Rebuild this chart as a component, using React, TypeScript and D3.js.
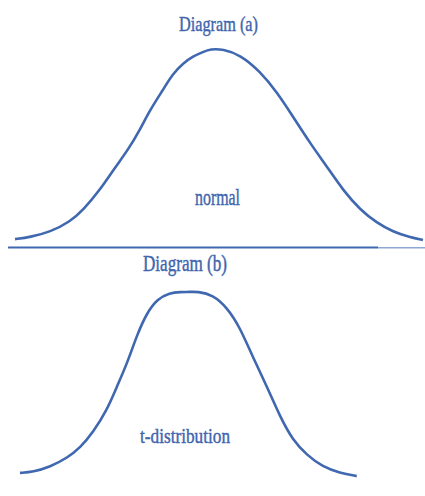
import React from "react";
import * as d3 from "d3";

// Curve samples (standardised x, density y)
const normalX = [-2.6, -2.41, -2.15, -1.9, -1.73, -1.52, -1.33, -1.16, -1.01, -0.88, -0.71, -0.59, -0.46, -0.33, -0.2, -0.11, 0.05, 0.27, 0.52, 0.74, 0.94, 1.16, 1.38, 1.58, 1.8, 2.01, 2.22, 2.43, 2.6];
const normalY = [0.006, 0.01, 0.021, 0.042, 0.067, 0.108, 0.154, 0.192, 0.233, 0.275, 0.318, 0.35, 0.372, 0.387, 0.396, 0.402, 0.402, 0.39, 0.356, 0.312, 0.262, 0.206, 0.156, 0.108, 0.067, 0.04, 0.021, 0.01, 0.004];

const tX = [-2.6, -2.4, -2.14, -1.88, -1.68, -1.48, -1.27, -1.12, -0.96, -0.81, -0.66, -0.5, -0.31, -0.15, 0.0, 0.11, 0.35, 0.57, 0.76, 0.96, 1.18, 1.38, 1.57, 1.79, 2.03, 2.29, 2.55];
const tY = [0.011, 0.013, 0.024, 0.043, 0.065, 0.099, 0.146, 0.196, 0.247, 0.308, 0.355, 0.385, 0.398, 0.4, 0.4, 0.401, 0.394, 0.366, 0.325, 0.26, 0.196, 0.131, 0.082, 0.049, 0.024, 0.011, 0.004];

const titles = ["Diagram (a)", "Diagram (b)"];
const curveLabels = ["normal", "t-distribution"];

const W = 425;
const H = 496;
const BLUE = "#4068b0";
const TEXT_BLUE = "#3f65ae";
const FONT = "'Liberation Serif', 'DejaVu Serif', serif";

// Panel (a) scales
const xA = d3.scaleLinear().domain([-2.6, 2.6]).range([15, 423]);
const yA = d3.scaleLinear().domain([0, 0.4]).range([242, 50]);
// Panel (b) scales
const xB = d3.scaleLinear().domain([-2.6, 2.6]).range([20, 360]);
const yB = d3.scaleLinear().domain([0, 0.4]).range([478, 292]);

const pathFor = (
  xs: number[],
  ys: number[],
  sx: d3.ScaleLinear<number, number>,
  sy: d3.ScaleLinear<number, number>
) =>
  d3
    .line<number>()
    .x((_, i) => sx(xs[i]))
    .y((d) => sy(d))
    .curve(d3.curveBasis)(ys) || "";

const textStyle = {
  fontFamily: FONT,
  fill: TEXT_BLUE,
  stroke: TEXT_BLUE,
  strokeWidth: 0.45,
};

export default function App() {
  const pathA = pathFor(normalX, normalY, xA, yA);
  const pathB = pathFor(tX, tY, xB, yB);

  return (
    <svg
      width={W}
      height={H}
      viewBox={`0 0 ${W} ${H}`}
      style={{ position: "absolute", left: 0, top: 0, background: "#fff" }}
    >
      {/* Panel (a) */}
      <text x={179} y={31} fontSize={22} textLength={79} lengthAdjust="spacingAndGlyphs" style={textStyle}>
        {titles[0]}
      </text>
      <path d={pathA} fill="none" stroke={BLUE} strokeWidth={2.6} strokeLinejoin="round" />
      <text x={195} y={205} fontSize={24} textLength={45} lengthAdjust="spacingAndGlyphs" style={textStyle}>
        {curveLabels[0]}
      </text>
      {/* Divider between panels */}
      <line x1={8} x2={378} y1={247.5} y2={247.5} stroke={BLUE} strokeWidth={2.2} />
      <line x1={378} x2={425} y1={247.7} y2={247.7} stroke="#8ea7d3" strokeWidth={1.4} />

      {/* Panel (b) */}
      <text x={143} y={271} fontSize={23} textLength={84} lengthAdjust="spacingAndGlyphs" style={textStyle}>
        {titles[1]}
      </text>
      <path d={pathB} fill="none" stroke={BLUE} strokeWidth={2.6} strokeLinejoin="round" />
      <text x={140} y={443} fontSize={22} textLength={90} lengthAdjust="spacingAndGlyphs" style={textStyle}>
        {curveLabels[1]}
      </text>
    </svg>
  );
}
